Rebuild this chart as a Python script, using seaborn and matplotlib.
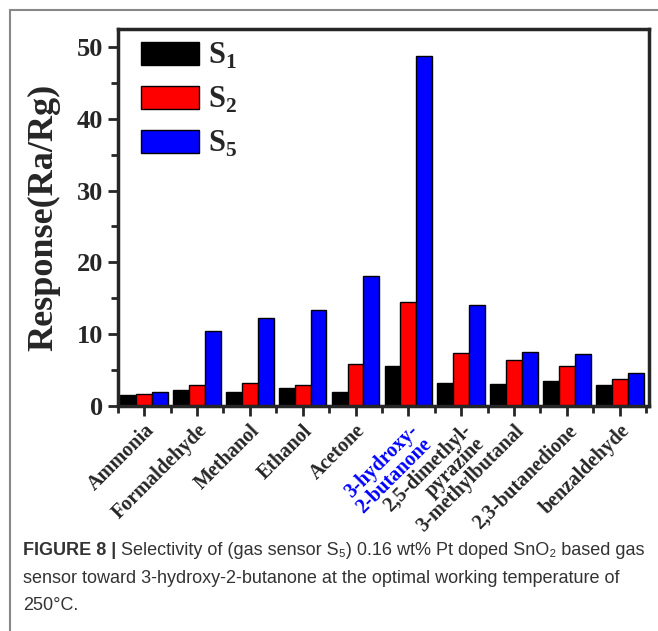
import matplotlib.pyplot as plt
import matplotlib as mpl
from matplotlib.patches import Rectangle
from matplotlib.ticker import MultipleLocator, FixedLocator
import seaborn as sns
import pandas as pd
import numpy as np

sns.set_style('ticks')
plt.rcParams['font.family'] = ['Liberation Serif', 'DejaVu Serif']
plt.rcParams['mathtext.fontset'] = 'custom'
plt.rcParams['mathtext.rm'] = 'Liberation Serif:bold'
plt.rcParams['mathtext.bf'] = 'Liberation Serif:bold'

# data
gases = ['Ammonia', 'Formaldehyde', 'Methanol', 'Ethanol', 'Acetone',
         '3-hydroxy-\n2-butanone', '2,5-dimethyl-\npyrazine', '3-methylbutanal',
         '2,3-butanedione', 'benzaldehyde']
s1 = [1.5, 2.2, 2.0, 2.45, 1.9, 5.6, 3.15, 3.1, 3.5, 2.9]
s2 = [1.7, 2.9, 3.15, 2.95, 5.9, 14.45, 7.4, 6.35, 5.5, 3.8]
s5 = [2.0, 10.5, 12.2, 13.4, 18.1, 48.7, 14.1, 7.5, 7.2, 4.55]
sensors = ['S$_1$', 'S$_2$', 'S$_5$']

df = pd.DataFrame({'gas': gases * 3,
                   'sensor': [sensors[0]] * 10 + [sensors[1]] * 10 + [sensors[2]] * 10,
                   'resp': s1 + s2 + s5})

fig = plt.figure(figsize=(6.58, 6.31), dpi=100)
ax = fig.add_axes([0.179, 0.3566, 0.807, 0.5974])

sns.barplot(data=df, x='gas', y='resp', hue='sensor', ax=ax,
            palette=['#000000', '#ff0000', '#0000ff'], width=0.9,
            edgecolor='black', linewidth=1, errorbar=None, saturation=1)

ax.set_xlim(-0.5, 9.55)
ax.set_ylim(0, 52.5)
ax.yaxis.set_major_locator(MultipleLocator(10))
ax.yaxis.set_minor_locator(MultipleLocator(5))
ax.xaxis.set_minor_locator(FixedLocator(np.arange(-0.5, 10, 1)))
ax.tick_params(which='both', direction='out', width=2)
ax.tick_params(which='major', length=7)
ax.tick_params(which='minor', length=5)
ax.tick_params(axis='y', labelsize=19)
for lbl in ax.get_yticklabels():
    lbl.set_fontweight('bold')
for sp in ax.spines.values():
    sp.set_linewidth(2.5)
    sp.set_visible(True)

ax.set_xticks(range(len(gases)))
ax.set_xticklabels(gases, rotation=45, ha='right', va='top',
                   rotation_mode='anchor', fontsize=14.5, fontweight='bold',
                   multialignment='right', linespacing=0.95)
ax.get_xticklabels()[5].set_color('#0000ff')
ax.set_xlabel('')
ax.set_ylabel('Response(Ra/Rg)', fontsize=26, fontweight='bold', labelpad=12)

leg = ax.legend(loc='upper left', bbox_to_anchor=(0.021, 1.0), frameon=False,
                prop={'size': 22, 'weight': 'bold'},
                handlelength=1.9, handleheight=0.78, labelspacing=0.45,
                handletextpad=0.3, borderaxespad=0.0)

# panel frame
fig.patches.append(Rectangle((10 / 658, -0.1), 1.2, 1 - 10 / 631 + 0.1,
                             transform=fig.transFigure, fill=False,
                             edgecolor='#888888', linewidth=1.5))

cap = dict(fontsize=13, color='#333333', family=['Liberation Sans', 'DejaVu Sans'])
y1 = 1 - 555 / 631
bold = fig.text(23 / 658, y1, 'FIGURE 8 |', fontweight='bold', va='baseline', **cap)
ax.annotate(' Selectivity of (gas sensor S\u2085) 0.16 wt% Pt doped SnO\u2082 based gas',
            xy=(1, y1), xycoords=(bold, 'figure fraction'), va='baseline', **cap)
fig.text(23 / 658, 1 - 583 / 631,
         'sensor toward 3-hydroxy-2-butanone at the optimal working temperature of',
         va='baseline', **cap)
fig.text(23 / 658, 1 - 610 / 631, '250\u00b0C.', va='baseline', **cap)

fig.savefig('out.png', dpi=100)
